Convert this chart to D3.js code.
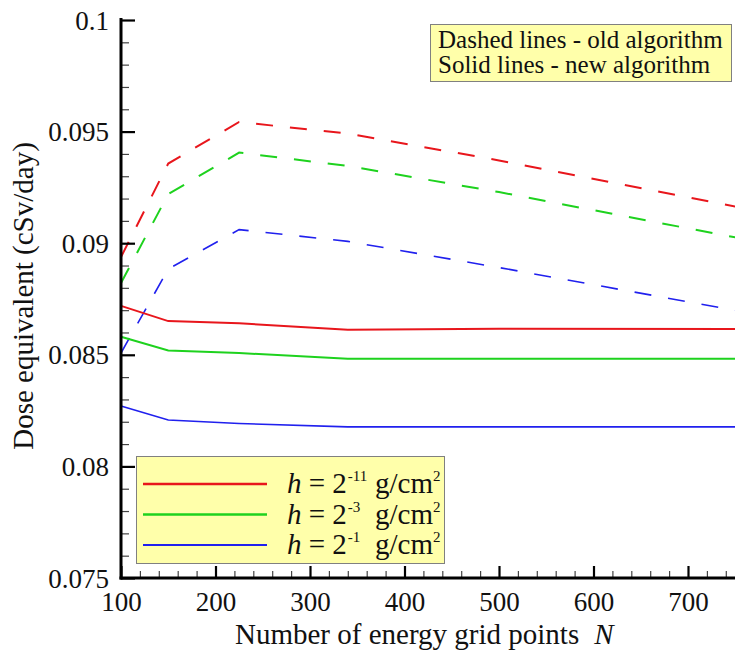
<!DOCTYPE html>
<html>
<head>
<meta charset="utf-8">
<script src="https://cdn.jsdelivr.net/npm/d3@7"></script>
<style>
  body { margin: 0; background: #fff; }
  svg, svg text { font-family: "Liberation Serif", "Times New Roman", serif; }
  svg { display: block; }
  .tickLabel { font-size: 27px; fill: #111; }
</style>
</head>
<body>
<div id="chart"></div>
<script>
var wid = 735, heig = 652;

// grid sizes N and dose values (cSv/day)
var gridN  = [100, 150, 225, 340, 500, 750];
var oldH11 = [0.08938, 0.09357, 0.09543, 0.09491, 0.09371, 0.09164];
var oldH3  = [0.08822, 0.09220, 0.09406, 0.09346, 0.09229, 0.09026];
var oldH1  = [0.08508, 0.08884, 0.09061, 0.09008, 0.08891, 0.08699];
var newH11 = [0.08719, 0.08651, 0.08641, 0.08612, 0.08617, 0.08616];
var newH3  = [0.08581, 0.08519, 0.08508, 0.08482, 0.08482, 0.08482];
var newH1  = [0.08271, 0.08208, 0.08192, 0.08177, 0.08177, 0.08177];

var xTicks = [100, 200, 300, 400, 500, 600, 700];
var yTicks = [0.075, 0.08, 0.085, 0.09, 0.095, 0.1];
var legendExp = ["-11", "-3", "-1"];

var red = "#e8161c", green = "#1ed21e", blue = "#2020ee";

var series = [
  {vals: oldH11, color: red,   dash: "17,17", w: 2},
  {vals: oldH3,  color: green, dash: "17,17", w: 2},
  {vals: oldH1,  color: blue,  dash: "17,17", w: 1.6},
  {vals: newH11, color: red,   dash: null,    w: 2},
  {vals: newH3,  color: green, dash: null,    w: 2},
  {vals: newH1,  color: blue,  dash: null,    w: 1.6}
];

var svg = d3.select("#chart").append("svg")
    .attr("width", wid)
    .attr("height", heig);

var x = d3.scaleLinear().domain([100, 750]).range([121, 735.25]);
var y = d3.scaleLinear().domain([0.075, 0.1]).range([578, 20]);

var minorX = d3.range(100, 751, 20).filter(function(d){ return d % 100 != 0; });
var minorY = d3.range(0, 26).map(function(i){ return +(0.075 + i*0.001).toFixed(3); })
    .filter(function(d){ return yTicks.indexOf(d) < 0; });

//minor ticks first
svg.append("g")
    .attr("transform", "translate(0,578)")
    .call(d3.axisBottom(x).tickValues(minorX).tickSize(-7).tickFormat(""))
    .call(function(g){ g.select(".domain").remove();
      g.selectAll("line").attr("stroke", "#444").attr("stroke-width", 1.2); });

svg.append("g")
    .attr("transform", "translate(121,0)")
    .call(d3.axisLeft(y).tickValues(minorY).tickSize(-8).tickFormat(""))
    .call(function(g){ g.select(".domain").remove();
      g.selectAll("line").attr("stroke", "#444").attr("stroke-width", 1.2); });

// data lines
var line = d3.line()
    .x(function(d, i){ return x(gridN[i]); })
    .y(function(d){ return y(d); });

svg.selectAll("path.curve")
    .data(series)
    .enter().append("path")
    .attr("class", "curve")
    .attr("fill", "none")
    .attr("stroke", function(d){ return d.color; })
    .attr("stroke-width", function(d){ return d.w; })
    .attr("stroke-dasharray", function(d){ return d.dash; })
    .attr("d", function(d){ return line(d.vals); });

// major ticks and labels
var xAxis = svg.append("g")
    .attr("transform", "translate(0,578)")
    .call(d3.axisBottom(x).tickValues(xTicks).tickSize(-12).tickPadding(14).tickFormat(d3.format("d")));
xAxis.attr("font-family", null).attr("font-size", null);
xAxis.select(".domain").remove();
xAxis.selectAll("line").attr("stroke", "#000").attr("stroke-width", 2.2);
xAxis.selectAll("text").attr("class", "tickLabel").attr("dy", "0.71em").attr("y", 14);

var yAxis = svg.append("g")
    .attr("transform", "translate(121,0)")
    .call(d3.axisLeft(y).tickValues(yTicks).tickSize(-14).tickPadding(12).tickFormat(function(d){ return String(d); }));
yAxis.attr("font-family", null).attr("font-size", null);
yAxis.select(".domain").remove();
yAxis.selectAll("line").attr("stroke", "#000").attr("stroke-width", 2.2);
yAxis.selectAll("text").attr("class", "tickLabel").attr("dy", "0.34em");

// axis lines
svg.append("line").attr("x1", 121).attr("x2", 121).attr("y1", 18).attr("y2", 579.5)
    .attr("stroke", "#000").attr("stroke-width", 3);
svg.append("line").attr("x1", 119.5).attr("x2", 735).attr("y1", 578).attr("y2", 578)
    .attr("stroke", "#000").attr("stroke-width", 3);

// axis titles
var xt = svg.append("text")
    .attr("x", 235).attr("y", 644)
    .style("font-size", "29px").style("fill", "#111")
    .text("Number of energy grid points");
xt.append("tspan").attr("dx", 15).style("font-style", "italic").text("N");

svg.append("text")
    .attr("transform", "translate(33,296) rotate(-90)")
    .attr("text-anchor", "middle")
    .style("font-size", "29px").style("fill", "#111")
    .text("Dose equivalent (cSv/day)");

// note box top right
svg.append("rect")
    .attr("x", 430.5).attr("y", 24.5).attr("width", 301).attr("height", 57)
    .attr("fill", "#ffffaa").attr("stroke", "#808080").attr("stroke-width", 1);
svg.append("text").attr("x", 438).attr("y", 48).style("font-size", "25px").style("fill", "#111")
    .text("Dashed lines - old algorithm");
svg.append("text").attr("x", 438).attr("y", 73).style("font-size", "25px").style("fill", "#111")
    .text("Solid lines - new algorithm");

// legend
var legend = svg.append("g").attr("class", "legend");
legend.append("rect")
    .attr("x", 136.5).attr("y", 456.5).attr("width", 308).attr("height", 107)
    .attr("fill", "#ffffaa").attr("stroke", "#808080").attr("stroke-width", 1);

var rowY = [484, 514.5, 545];
var rows = legend.selectAll("g.row")
    .data(series.slice(3))
    .enter().append("g")
    .attr("class", "row")
    .attr("transform", function(d, i){ return "translate(0," + rowY[i] + ")"; });

rows.append("line")
    .attr("x1", 143).attr("x2", 267).attr("y1", 0).attr("y2", 0)
    .attr("stroke", function(d){ return d.color; })
    .attr("stroke-width", function(d){ return d.w + 0.4; });

var lt = rows.append("text")
    .attr("x", 287).attr("y", 9)
    .style("font-size", "29px").style("fill", "#111");
lt.append("tspan").style("font-style", "italic").text("h");
lt.append("tspan").text(" = 2");
lt.append("tspan").attr("dx", 1).attr("dy", -12).style("font-size", "15px")
    .text(function(d, i){ return legendExp[i]; });

var gt = rows.append("text")
    .attr("x", 375).attr("y", 9)
    .style("font-size", "29px").style("fill", "#111");
gt.append("tspan").text("g/cm");
gt.append("tspan").attr("dy", -12).style("font-size", "15px").text("2");
</script>
</body>
</html>
